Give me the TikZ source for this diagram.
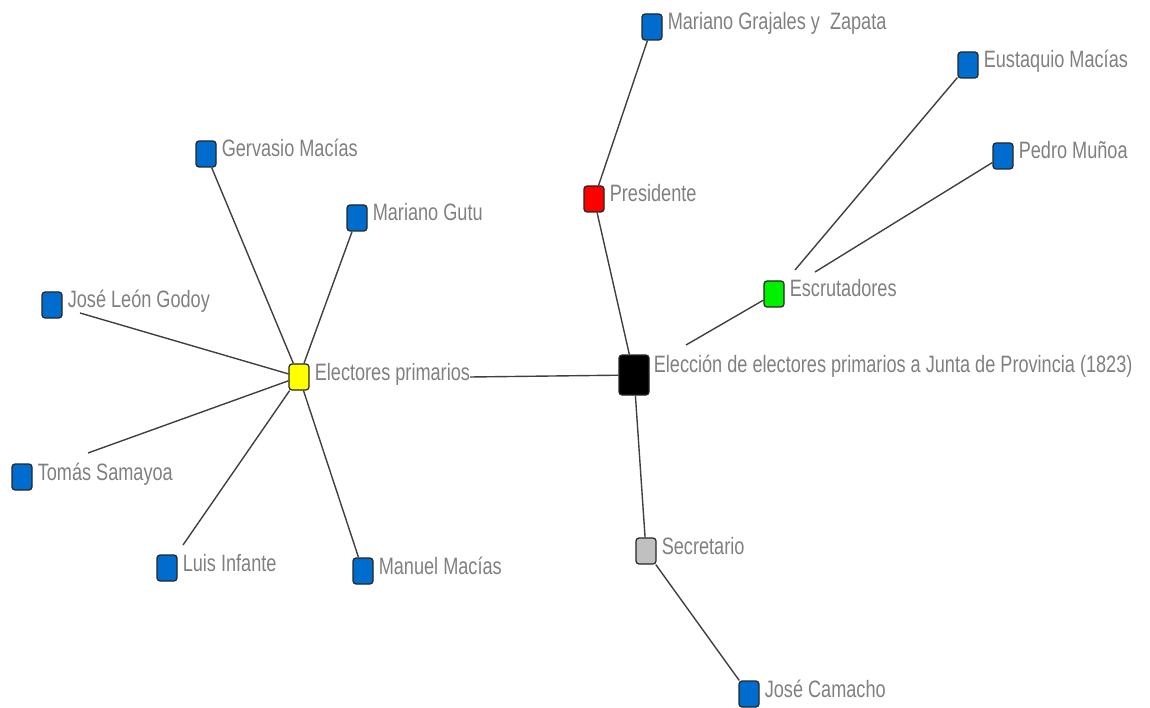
\documentclass[tikz,border=0pt]{standalone}
\usepackage{fontspec}
\newfontfamily\labelfont[FakeStretch=0.765]{Liberation Sans}
\usepackage{xcolor}
\definecolor{colorActor}{RGB}{0,108,206}
\definecolor{colorPrimary}{RGB}{255,255,0}
\definecolor{colorPresident}{RGB}{255,0,0}
\definecolor{colorCounter}{RGB}{0,240,0}
\definecolor{colorSecretary}{RGB}{192,192,192}
\colorlet{colorLabel}{black!50}
\usetikzlibrary{positioning}

\begin{document}
\begin{tikzpicture}[x=1pt, y=-1pt,
  actor/.style={draw=black!85, line width=1.2pt, rounded corners=3pt, minimum width=20pt, minimum height=26pt, inner sep=0pt, fill=colorActor},
  lbl/.style={inner sep=0pt, text height=17pt, text depth=11pt, text=colorLabel, font=\labelfont\fontsize{23.7}{28}\selectfont},
  link/.style={draw=black!75, line width=1.4pt}]
\useasboundingbox (0,0) rectangle (1150,708);
% event and roles
\node[actor, fill=black, minimum width=30pt, minimum height=40pt] (eleccion) at (634,375) {};
\node[lbl, right=4pt of eleccion, yshift=6pt] (eleccionL) {Elección de electores primarios a Junta de Provincia (1823)};
\node[actor, fill=colorPrimary] (electores) at (299,377) {};
\node[lbl, right=5pt of electores] (electoresL) {Electores primarios};
\node[actor, fill=colorPresident] (presidente) at (594,199) {};
\node[lbl, right=5pt of presidente] (presidenteL) {Presidente};
\node[actor, fill=colorCounter] (escrut) at (774,294) {};
\node[lbl, right=5pt of escrut] (escrutL) {Escrutadores};
\node[actor, fill=colorSecretary] (secretario) at (646,551) {};
\node[lbl, right=5pt of secretario] (secretarioL) {Secretario};
% persons
\node[actor] (gervasio) at (206,154) {};
\node[lbl, right=5pt of gervasio] (gervasioL) {Gervasio Macías};
\node[actor] (gutu) at (357,218) {};
\node[lbl, right=5pt of gutu] (gutuL) {Mariano Gutu};
\node[actor] (godoy) at (52,305) {};
\node[lbl, right=5pt of godoy] (godoyL) {José León Godoy};
\node[actor] (tomas) at (22,477) {};
\node[lbl, right=5pt of tomas] (tomasL) {Tomás Samayoa};
\node[actor] (infante) at (167,568) {};
\node[lbl, right=5pt of infante] (infanteL) {Luis Infante};
\node[actor] (manuel) at (363,571) {};
\node[lbl, right=5pt of manuel] (manuelL) {Manuel Macías};
\node[actor] (grajales) at (652,27) {};
\node[lbl, right=5pt of grajales] (grajalesL) {Mariano Grajales y~ Zapata};
\node[actor] (eustaquio) at (968,65) {};
\node[lbl, right=5pt of eustaquio] (eustaquioL) {Eustaquio Macías};
\node[actor] (munoa) at (1003,156) {};
\node[lbl, right=5pt of munoa] (munoaL) {Pedro Muñoa};
\node[actor] (camacho) at (749,694) {};
\node[lbl, right=5pt of camacho] (camachoL) {José Camacho};
% loose ends
\coordinate (godoyEnd) at (80,313);
\coordinate (tomasEnd) at (88,453);
\coordinate (infanteEnd) at (183,545);
\coordinate (escrutEnd) at (686,345);
\coordinate (eustaquioEnd) at (795,270);
\coordinate (munoaEnd) at (815,272);
% ties
\draw[link] (electoresL.east) -- (eleccion);
\draw[link] (gervasio) -- (electores);
\draw[link] (gutu) -- (electores);
\draw[link] (godoyEnd) -- (electores);
\draw[link] (tomasEnd) -- (electores);
\draw[link] (infanteEnd) -- (electores);
\draw[link] (manuel) -- (electores);
\draw[link] (eleccion) -- (presidente);
\draw[link] (presidente) -- (grajales);
\draw[link] (escrutEnd) -- (escrut);
\draw[link] (eustaquioEnd) -- (eustaquio);
\draw[link] (munoaEnd) -- (munoa);
\draw[link] (eleccion) -- (secretario);
\draw[link] (secretario) -- (camacho);
\end{tikzpicture}
\end{document}
